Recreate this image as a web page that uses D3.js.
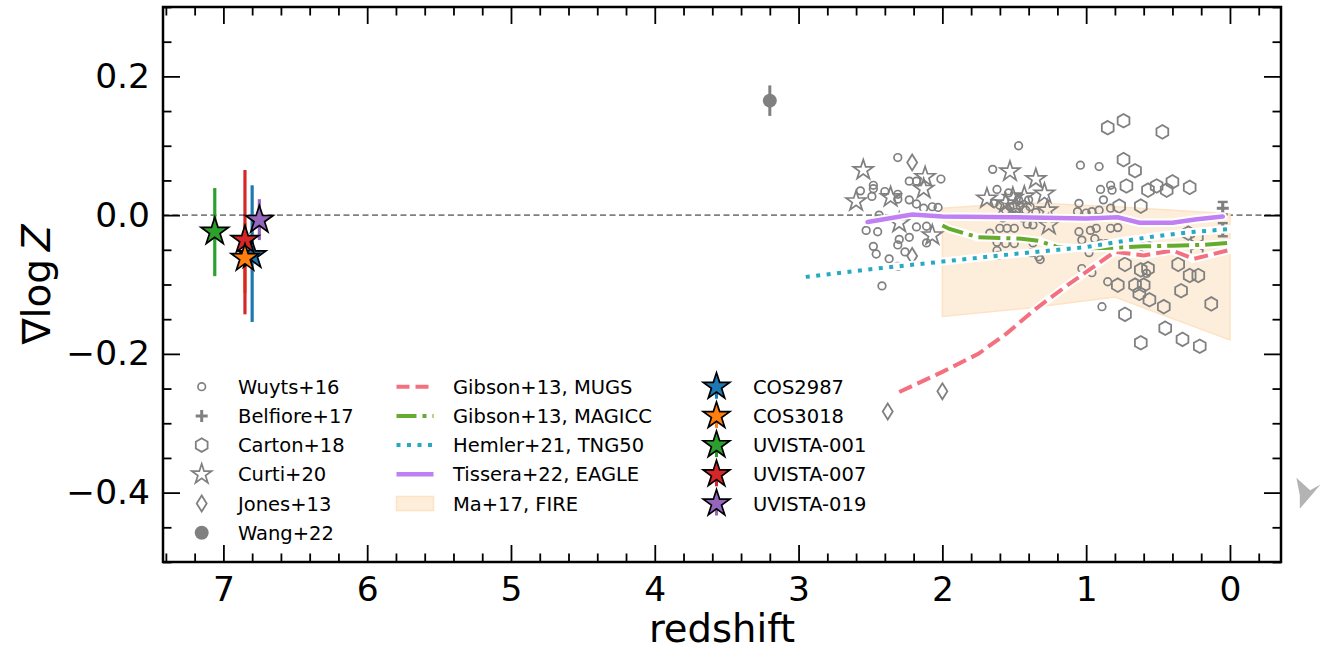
<!DOCTYPE html>
<html><head><meta charset="utf-8">
<script src="https://cdn.jsdelivr.net/npm/d3@7"></script>
<style>body{margin:0;background:#fff} text{font-family:"DejaVu Sans",sans-serif}</style>
</head><body>
<svg id="c" width="1325" height="654"></svg>
<script>
// ---------------- DATA ----------------
const xTicks = [7, 6, 5, 4, 3, 2, 1, 0];
const yTicks = [0.2, 0.0, -0.2, -0.4];
const yTickLabels = ["0.2", "0.0", "\u22120.2", "\u22120.4"];

// Wuyts+16 (small open circles)
const wuytsZ = [2.31,2.01,2.48,2.48,2.57,2.49,2.40,2.31,2.31,2.23,2.18,2.23,2.18,2.13,2.07,2.03,2.44,2.53,2.45,2.18,2.11,2.30,2.23,2.48,2.46,2.31,2.37,2.26,2.31,2.11,2.42,
  1.67,1.62,1.65,1.47,1.54,1.62,1.56,1.50,1.37,1.33,1.61,1.04,1.64,1.05,1.06,1.00,1.41,1.62,1.38,1.05,1.03,1.60,1.55,1.50,
  1.60,1.56,1.53,1.49,1.46,1.42,1.39,1.51,1.44,1.58,1.47,1.40,1.35,
  0.91,0.90,0.83,0.82,0.88,0.96,0.91,0.83,1.37,0.97,0.83,0.78,0.93,0.94,0.90,0.86,0.98,1.03,0.96,0.85,0.89,1.32,0.58];
const wuytsV = [0.083,0.052,0.043,0.038,0.035,0.027,0.034,0.030,0.023,0.049,0.049,0.022,0.016,0.010,0.012,0.011,0.000,-0.022,-0.024,-0.017,-0.016,-0.035,-0.032,-0.045,-0.056,-0.043,-0.063,-0.053,-0.074,-0.040,-0.102,
  -0.026,0.037,0.066,0.100,0.032,-0.039,-0.041,-0.041,-0.040,-0.060,-0.058,0.072,0.017,0.017,0.005,0.003,-0.013,-0.051,-0.054,-0.024,-0.036,-0.019,-0.019,-0.019,
  0.014,0.007,0.012,0.004,0.014,0.007,0.012,0.000,-0.004,-0.004,0.022,0.022,0.004,
  0.070,0.037,0.043,0.036,0.022,0.005,0.007,0.010,-0.014,-0.022,-0.019,-0.018,-0.019,-0.034,-0.041,-0.041,-0.054,-0.077,-0.083,-0.096,-0.132,-0.064,-0.084];

// Belfiore+17 (plus with error bars)
const belfioreZ = [0.05, 0.05];
const belfioreV = [0.010, -0.021];
const belfioreErr = [0.009, 0.0095];

// Carton+18 (open hexagons)
const cartonZ = [0.85,0.74,0.47,0.74,0.66,0.72,0.57,0.51,0.44,0.40,0.28,0.77,0.62,0.73,0.62,0.57,0.36,0.28,0.22,0.78,0.66,0.60,0.63,0.56,0.34,0.46,0.73,0.13,0.45,0.62,0.33,0.21,0.29,0.23,0.23,0.58];
const cartonV = [0.126,0.136,0.120,0.080,0.064,0.042,0.036,0.042,0.036,0.048,0.040,0.013,0.013,-0.071,-0.079,-0.077,-0.071,-0.087,-0.087,-0.101,-0.101,-0.101,-0.113,-0.122,-0.109,-0.132,-0.143,-0.128,-0.163,-0.184,-0.179,-0.189,-0.026,-0.031,-0.055,-0.046];

// Curti+20 (open stars)
const curtiZ = [2.55,2.60,2.36,2.12,2.13,2.30,2.07,1.53,1.35,1.69,1.43,1.29,1.27,1.26,1.56,1.51,1.49];
const curtiV = [0.065,0.020,0.026,0.055,0.038,-0.011,-0.029,0.063,0.052,0.024,0.027,0.031,0.007,-0.014,0.017,0.025,0.012];

// Jones+13 (thin diamonds)
const jonesZ = [2.21, 2.21, 2.38, 2.00];
const jonesV = [0.076, -0.059, -0.283, -0.254];

// Wang+22 (filled circle)
const wangZ = [3.2];
const wangV = [0.165];
const wangErr = [0.022];

// Simulations
const mugsZ = [2.3,2.0,1.75,1.55,1.35,1.15,0.85,0.8,0.6,0.4,0.25,0.0];
const mugsV = [-0.255,-0.226,-0.200,-0.170,-0.135,-0.104,-0.060,-0.053,-0.058,-0.051,-0.063,-0.050];
const magiccZ = [2.0,1.95,1.75,1.45,1.33,1.2,1.0,0.8,0.6,0.4,0.2,0.0];
const magiccV = [-0.015,-0.020,-0.032,-0.034,-0.037,-0.046,-0.048,-0.047,-0.045,-0.044,-0.043,-0.040];
const tngZ = [2.95,2.5,2.0,1.5,1.0,0.7,0.5,0.3,0.0];
const tngV = [-0.089,-0.078,-0.067,-0.056,-0.046,-0.036,-0.030,-0.025,-0.020];
const eagleZ = [2.52,2.21,2.0,1.5,1.0,0.78,0.63,0.4,0.23,0.05];
const eagleV = [-0.010,0.001,-0.002,-0.003,-0.005,-0.003,-0.011,-0.011,-0.006,-0.002];
const fireZ = [2.0, 1.4, 0.8, 0.0];
const fireHi = [0.010, 0.018, 0.012, 0.002];
const fireLo = [-0.146, -0.134, -0.118, -0.180];

// This work
const srcNames = ["COS2987", "COS3018", "UVISTA-001", "UVISTA-007", "UVISTA-019"];
const srcZ = [6.80, 6.85, 7.06, 6.85, 6.75];
const srcV = [-0.058, -0.062, -0.024, -0.036, -0.007];
const srcErrLo = [0.096, 0.05, 0.064, 0.107, 0.029];
const srcErrHi = [0.101, 0.05, 0.063, 0.101, 0.030];
const srcColors = ["#1f77b4", "#ff7f0e", "#2ca02c", "#d62728", "#9467bd"];
const srcDrawOrder = [0, 2, 3, 1, 4];

// clipped marker at the right edge
const edgeZ = [-0.5];
const edgeV = [-0.4];

// ---------------- DRAW ----------------
const svg = d3.select("#c");
const L = 163, R = 1281, T = 7, B = 562;
const x = d3.scaleLinear().domain([7.42, -0.355]).range([L, R]);
const y = d3.scaleLinear().domain([-0.5, 0.3]).range([B, T]);
const gray = "#808080";

function starPath(r, ri) {
  ri = ri || r * 0.382;
  const p = [];
  for (let i = 0; i < 10; i++) {
    const a = -Math.PI / 2 + i * Math.PI / 5;
    const rr = i % 2 ? ri : r;
    p.push([rr * Math.cos(a), rr * Math.sin(a)]);
  }
  return "M" + p.map(d => d[0].toFixed(2) + "," + d[1].toFixed(2)).join("L") + "Z";
}
function hexPath(r) {
  const p = [];
  for (let i = 0; i < 6; i++) {
    const a = -Math.PI / 2 + i * Math.PI / 3;
    p.push([r * Math.cos(a), r * Math.sin(a)]);
  }
  return "M" + p.map(d => d[0].toFixed(2) + "," + d[1].toFixed(2)).join("L") + "Z";
}
function diamondPath(w, h) {
  return `M0,${-h/2}L${w/2},0L0,${h/2}L${-w/2},0Z`;
}
function plusPath(s) {
  return `M${-s},0L${s},0M0,${-s}L0,${s}`;
}

const defs = svg.append("defs");
defs.append("clipPath").attr("id", "clip").append("rect")
  .attr("x", L).attr("y", T).attr("width", R - L).attr("height", B - T);

const plot = svg.append("g").attr("clip-path", "url(#clip)");

// zero line
plot.append("line").attr("x1", L).attr("x2", R).attr("y1", y(0)).attr("y2", y(0))
  .attr("stroke", gray).attr("stroke-width", 1.6).attr("stroke-dasharray", "6,3.5");

// FIRE band
const fireData = fireZ.map((z, i) => ({z, hi: fireHi[i], lo: fireLo[i]}));
plot.append("path").datum(fireData)
  .attr("d", d3.area().x(d => x(d.z)).y0(d => y(d.lo)).y1(d => y(d.hi)))
  .attr("fill", "#fdeedb").attr("stroke", "#fde3c3").attr("stroke-width", 1.5);

// Wuyts
plot.selectAll(".wu").data(wuytsZ.map((z, i) => [z, wuytsV[i]])).enter().append("circle")
  .attr("cx", d => x(d[0])).attr("cy", d => y(d[1])).attr("r", 3.8)
  .attr("fill", "none").attr("stroke", gray).attr("stroke-width", 1.7);

// Carton
plot.selectAll(".ca").data(cartonZ.map((z, i) => [z, cartonV[i]])).enter().append("path")
  .attr("transform", d => `translate(${x(d[0])},${y(d[1])})`).attr("d", hexPath(6.8))
  .attr("fill", "none").attr("stroke", gray).attr("stroke-width", 1.8);

// Curti
plot.selectAll(".cu").data(curtiZ.map((z, i) => [z, curtiV[i]])).enter().append("path")
  .attr("transform", d => `translate(${x(d[0])},${y(d[1])})`).attr("d", starPath(10.5))
  .attr("fill", "none").attr("stroke", gray).attr("stroke-width", 1.7).attr("stroke-linejoin", "miter");

// Jones
plot.selectAll(".jo").data(jonesZ.map((z, i) => [z, jonesV[i]])).enter().append("path")
  .attr("transform", d => `translate(${x(d[0])},${y(d[1])})`).attr("d", diamondPath(10, 16))
  .attr("fill", "none").attr("stroke", gray).attr("stroke-width", 1.8);

// Belfiore
belfioreZ.forEach((z, i) => {
  const g = plot.append("g").attr("stroke", gray).attr("stroke-width", 2.4);
  g.append("line").attr("x1", x(z)).attr("x2", x(z)).attr("y1", y(belfioreV[i] + belfioreErr[i])).attr("y2", y(belfioreV[i] - belfioreErr[i]));
  [1, -1].forEach(s => g.append("line").attr("x1", x(z) - 5).attr("x2", x(z) + 5)
    .attr("y1", y(belfioreV[i] + s * belfioreErr[i])).attr("y2", y(belfioreV[i] + s * belfioreErr[i])));
  g.append("path").attr("transform", `translate(${x(z)},${y(belfioreV[i])})`).attr("d", plusPath(6)).attr("stroke-width", 3);
});

// Wang
wangZ.forEach((z, i) => {
  plot.append("line").attr("x1", x(z)).attr("x2", x(z)).attr("y1", y(wangV[i] + wangErr[i])).attr("y2", y(wangV[i] - wangErr[i]))
    .attr("stroke", gray).attr("stroke-width", 3);
  plot.append("circle").attr("cx", x(z)).attr("cy", y(wangV[i])).attr("r", 7).attr("fill", gray);
});

// simulation lines
const sims = [
  {z: mugsZ, v: mugsV, color: "#f5707f", dash: "14,6", w: 4},
  {z: magiccZ, v: magiccV, color: "#66aa2e", dash: "22,6,4,6", w: 4},
  {z: tngZ, v: tngV, color: "#27a9c1", dash: "4,6.5", w: 4},
  {z: eagleZ, v: eagleV, color: "#c07ff2", dash: null, w: 4.5}
];
const lineGen = d3.line().x(d => x(d[0])).y(d => y(d[1]));
sims.forEach(s => {
  const pts = s.z.map((z, i) => [z, s.v[i]]);
  plot.append("path").datum(pts).attr("d", lineGen).attr("fill", "none")
    .attr("stroke", "#fff").attr("stroke-width", s.w + 4).attr("stroke-dasharray", s.dash)
    .attr("stroke-linecap", s.dash ? "square" : "round");
  plot.append("path").datum(pts).attr("d", lineGen).attr("fill", "none")
    .attr("stroke", s.color).attr("stroke-width", s.w).attr("stroke-dasharray", s.dash)
    .attr("stroke-linecap", s.dash ? "butt" : "round");
});

// this work: error bars first, then stars
srcZ.forEach((z, i) => {
  plot.append("line").attr("x1", x(z)).attr("x2", x(z))
    .attr("y1", y(srcV[i] + srcErrHi[i])).attr("y2", y(srcV[i] - srcErrLo[i]))
    .attr("stroke", srcColors[i]).attr("stroke-width", 3.2);
});
srcDrawOrder.forEach(i => {
  plot.append("path").attr("transform", `translate(${x(srcZ[i])},${y(srcV[i])})`)
    .attr("d", starPath(14.5)).attr("fill", srcColors[i]).attr("stroke", "#000")
    .attr("stroke-width", 1.7).attr("stroke-linejoin", "miter");
});

// edge marker (outside plot, unclipped)
edgeZ.forEach((z, i) => {
  svg.append("path").attr("transform", `translate(${x(z) + 6},${y(edgeV[i]) + 0}) scale(1.15)`)
    .attr("d", "M-10,-13L2,-2L11,-7L0,6L-7,14L-7,2Z").attr("fill", "#b3b3b3");
});

// ---------------- AXES ----------------
const xMinor = d3.range(-0.2, 7.41, 0.2).filter(v => Math.abs(v - Math.round(v)) > 0.05);
const yMinor = d3.range(-0.5, 0.301, 0.05).filter(v => Math.abs(v / 0.2 - Math.round(v / 0.2)) > 0.05);
const maj = 17, mnr = 8.5;
function styleAxis(g) {
  g.select(".domain").remove();
  g.selectAll("line").attr("stroke", "#000").attr("stroke-width", 1.8);
  g.selectAll("text").attr("font-family", "DejaVu Sans").attr("font-size", 34.5).attr("fill", "#000");
}
svg.append("g").attr("transform", `translate(0,${B})`)
  .call(d3.axisBottom(x).tickValues(xTicks).tickFormat(d3.format("d")).tickSizeInner(-maj).tickSizeOuter(0).tickPadding(15)).call(styleAxis);
svg.append("g").attr("transform", `translate(0,${B})`)
  .call(d3.axisBottom(x).tickValues(xMinor).tickFormat("").tickSizeInner(-mnr).tickSizeOuter(0)).call(styleAxis);
svg.append("g").attr("transform", `translate(0,${T})`)
  .call(d3.axisTop(x).tickValues(xTicks).tickFormat("").tickSizeInner(-maj).tickSizeOuter(0)).call(styleAxis);
svg.append("g").attr("transform", `translate(0,${T})`)
  .call(d3.axisTop(x).tickValues(xMinor).tickFormat("").tickSizeInner(-mnr).tickSizeOuter(0)).call(styleAxis);
svg.append("g").attr("transform", `translate(${L},0)`)
  .call(d3.axisLeft(y).tickValues(yTicks).tickFormat((d, i) => yTickLabels[i]).tickSizeInner(-maj).tickSizeOuter(0).tickPadding(13)).call(styleAxis);
svg.append("g").attr("transform", `translate(${L},0)`)
  .call(d3.axisLeft(y).tickValues(yMinor).tickFormat("").tickSizeInner(-mnr).tickSizeOuter(0)).call(styleAxis);
svg.append("g").attr("transform", `translate(${R},0)`)
  .call(d3.axisRight(y).tickValues(yTicks).tickFormat("").tickSizeInner(-maj).tickSizeOuter(0)).call(styleAxis);
svg.append("g").attr("transform", `translate(${R},0)`)
  .call(d3.axisRight(y).tickValues(yMinor).tickFormat("").tickSizeInner(-mnr).tickSizeOuter(0)).call(styleAxis);

svg.append("rect").attr("x", L).attr("y", T).attr("width", R - L).attr("height", B - T)
  .attr("fill", "none").attr("stroke", "#000").attr("stroke-width", 2.5);

// axis labels
svg.append("text").attr("x", (L + R) / 2).attr("y", 642).attr("text-anchor", "middle")
  .attr("font-size", 38.5).text("redshift");
const yl = svg.append("text").attr("transform", `translate(50,${(T + B) / 2}) rotate(-90)`)
  .attr("text-anchor", "middle").attr("font-size", 39);
yl.append("tspan").text("\u2207log\u2009");
yl.append("tspan").attr("font-style", "italic").text("Z");

// ---------------- LEGEND ----------------
const rowY = d3.range(6).map(i => 386.7 + i * 29.2);
const fs = 19.5;
const lg = svg.append("g");
const c1m = 201.7, c1t = 238, c2a = 396.5, c2b = 433.5, c2t = 453, c3m = 716.5, c3t = 753;
const col1 = ["Wuyts+16", "Belfiore+17", "Carton+18", "Curti+20", "Jones+13", "Wang+22"];
col1.forEach((t, i) => lg.append("text").attr("x", c1t).attr("y", rowY[i] + 7).attr("font-size", fs).text(t));
lg.append("circle").attr("cx", c1m).attr("cy", rowY[0]).attr("r", 3.8).attr("fill", "none").attr("stroke", gray).attr("stroke-width", 1.7);
lg.append("path").attr("transform", `translate(${c1m},${rowY[1]})`).attr("d", plusPath(6)).attr("stroke", gray).attr("stroke-width", 3);
lg.append("path").attr("transform", `translate(${c1m},${rowY[2]})`).attr("d", hexPath(6.8)).attr("fill", "none").attr("stroke", gray).attr("stroke-width", 1.8);
lg.append("path").attr("transform", `translate(${c1m},${rowY[3]})`).attr("d", starPath(10.5)).attr("fill", "none").attr("stroke", gray).attr("stroke-width", 1.7);
lg.append("path").attr("transform", `translate(${c1m},${rowY[4]})`).attr("d", diamondPath(10, 16)).attr("fill", "none").attr("stroke", gray).attr("stroke-width", 1.8);
lg.append("circle").attr("cx", c1m).attr("cy", rowY[5]).attr("r", 7).attr("fill", gray);

const col2 = ["Gibson+13, MUGS", "Gibson+13, MAGICC", "Hemler+21, TNG50", "Tissera+22, EAGLE", "Ma+17, FIRE"];
col2.forEach((t, i) => lg.append("text").attr("x", c2t).attr("y", rowY[i] + 7).attr("font-size", fs).text(t));
sims.forEach((s, i) => {
  lg.append("line").attr("x1", c2a).attr("x2", c2b).attr("y1", rowY[i]).attr("y2", rowY[i])
    .attr("stroke", s.color).attr("stroke-width", s.w).attr("stroke-dasharray", s.dash === "22,6,4,6" ? "20,6,4,6" : (s.dash === "14,6" ? "13,6" : s.dash));
});
lg.append("rect").attr("x", c2a).attr("y", rowY[4] - 7).attr("width", c2b - c2a).attr("height", 14)
  .attr("fill", "#fdeedb").attr("stroke", "#fde3c3").attr("stroke-width", 1.5);

srcNames.forEach((t, i) => {
  lg.append("line").attr("x1", c3m).attr("x2", c3m).attr("y1", rowY[i] - 10).attr("y2", rowY[i] + 12)
    .attr("stroke", srcColors[i]).attr("stroke-width", 3);
  lg.append("path").attr("transform", `translate(${c3m},${rowY[i]})`).attr("d", starPath(14))
    .attr("fill", srcColors[i]).attr("stroke", "#000").attr("stroke-width", 1.7);
  lg.append("text").attr("x", c3t).attr("y", rowY[i] + 7).attr("font-size", fs).text(t);
});
</script>
</body></html>
